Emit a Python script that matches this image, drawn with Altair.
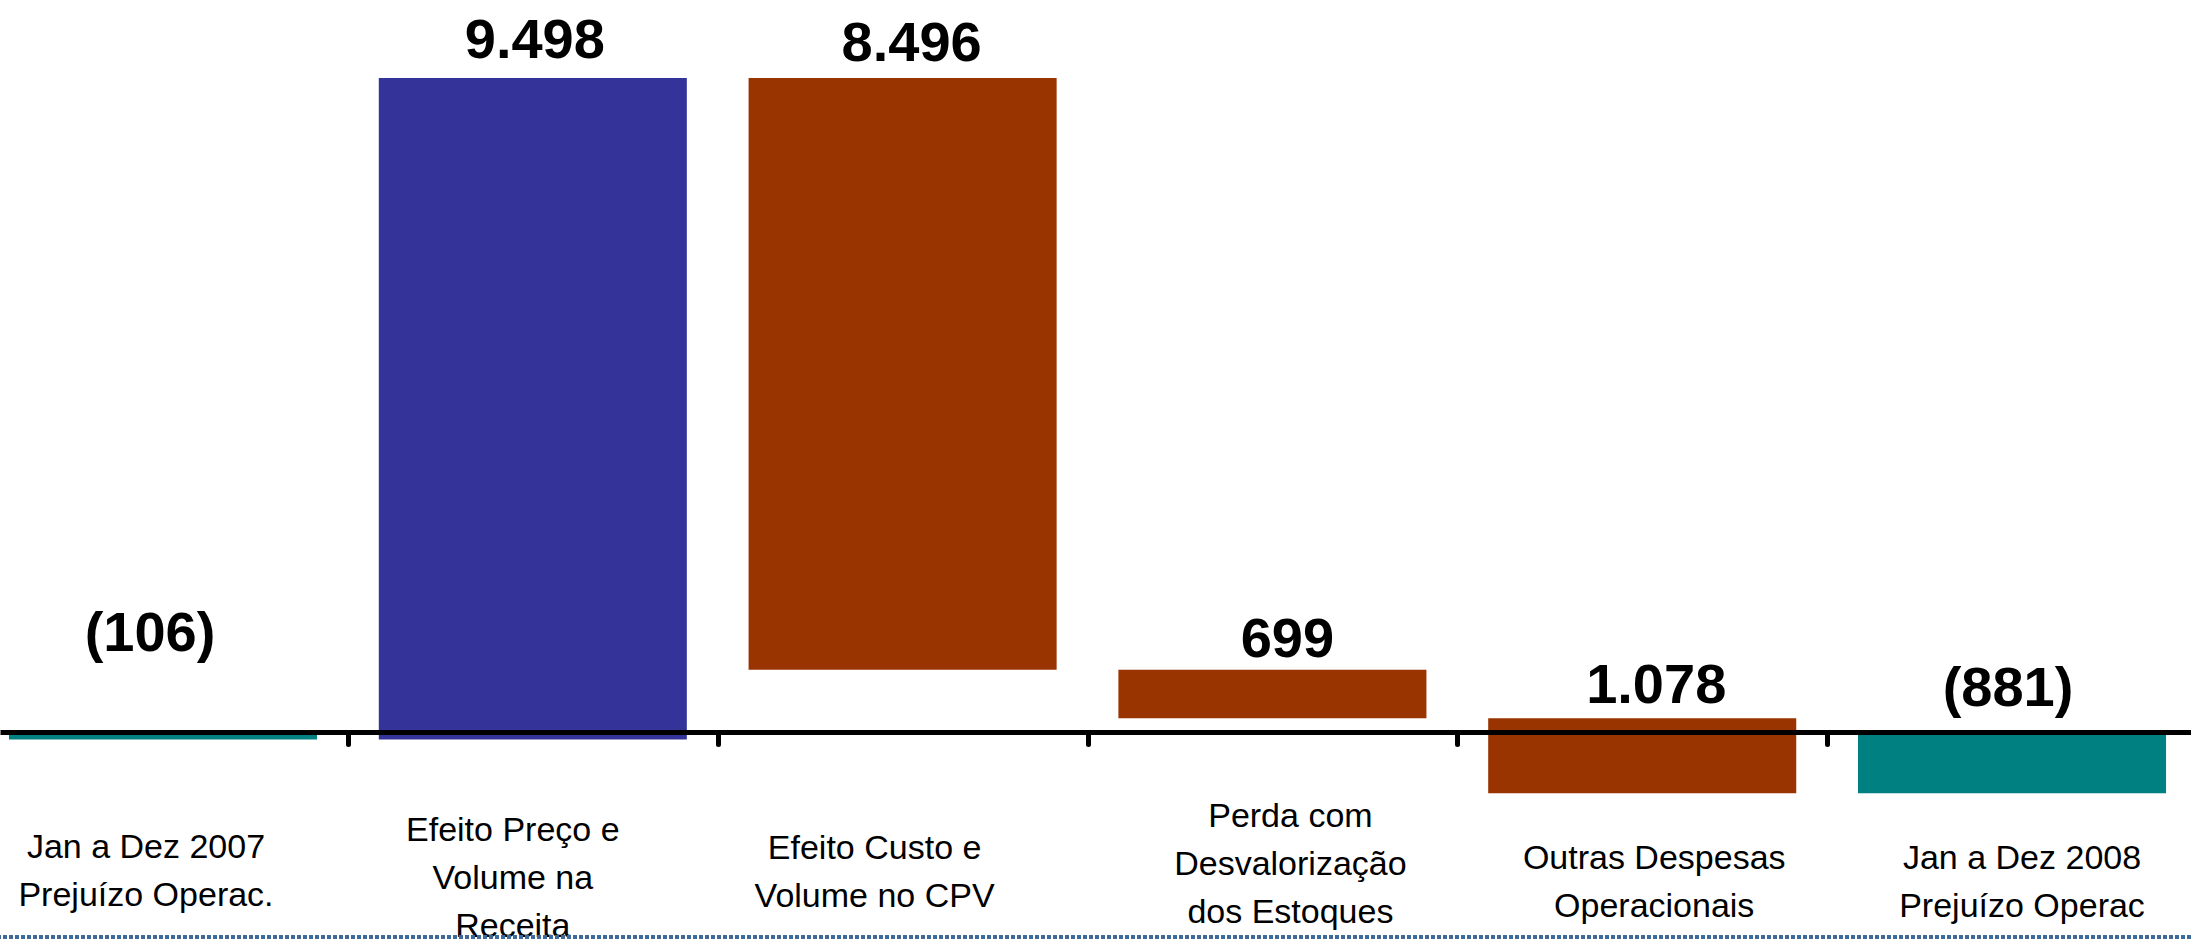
import altair as alt
import pandas as pd

# --- chart data -------------------------------------------------------------
categories = [
    "Jan a Dez 2007\nPrejuízo Operac.",
    "Efeito Preço  e\nVolume na\nReceita",
    "Efeito Custo e\nVolume no CPV",
    "Perda com\nDesvalorização\ndos Estoques",
    "Outras Despesas\nOperacionais",
    "Jan a Dez 2008\nPrejuízo Operac",
]
amounts = [-106, 9498, -8496, -699, -1078, -881]
kinds = ["total", "increase", "decrease", "decrease", "decrease", "total"]

# --- styling ----------------------------------------------------------------
kind_domain = ["total", "increase", "decrease"]
kind_range = ["#008080", "#333399", "#993300"]
bar_half = 0.4165                      # half bar width, in category units
value_dx = [-13, 2, 9, 15, 14, -4]     # pixel nudges of the value labels
value_dy = [-81, -20, -17, -13, -15, -26]
cat_dx = [-17, -20, -28, 18, 12, 10]   # pixel nudges of the category labels
cat_y = [858, 841, 859, 827, 869, 869]  # first-line baselines of category labels

W, H = 2191, 940
X_DOMAIN = [-0.4408, 5.484]
Y_DOMAIN = [-2987, 10513]
PX_PER_X = W / (X_DOMAIN[1] - X_DOMAIN[0])
PX_PER_Y = H / (Y_DOMAIN[1] - Y_DOMAIN[0])


def fmt_thousands(n):
    return f"{n:,}".replace(",", ".")


# waterfall: running total gives each bar's start and end
rows = []
running = 0
for i, (cat, amt, kind) in enumerate(zip(categories, amounts, kinds)):
    if kind == "total":
        start, end = 0, amt
        running = amt
        label = f"({fmt_thousands(-amt)})" if amt < 0 else fmt_thousands(amt)
    else:
        start, end = running, running + amt
        running = end
        label = fmt_thousands(abs(amt))
    top = max(start, end)
    rows.append(
        dict(
            idx=i,
            lo=i - bar_half,
            hi=i + bar_half,
            start=start,
            end=end,
            kind=kind,
            label=label,
            category=cat,
            # label anchors: bar centre / bar top, nudged by a few pixels
            vx=i + value_dx[i] / PX_PER_X,
            vy=top - value_dy[i] / PX_PER_Y,
            cx=i + cat_dx[i] / PX_PER_X,
            cy=cat_y[i],
        )
    )
df = pd.DataFrame(rows)

x_scale = alt.Scale(domain=X_DOMAIN, nice=False, zero=False)
y_scale = alt.Scale(domain=Y_DOMAIN, nice=False, zero=False)

# baseline at zero with ticks between the categories
x_axis = alt.Axis(
    values=[0.5, 1.5, 2.5, 3.5, 4.5],
    labels=False,
    title=None,
    grid=False,
    domainColor="black",
    domainWidth=5,
    tickColor="black",
    tickWidth=5,
    tickSize=12,
    tickCap="round",
    offset=-208,
    zindex=1,
)

bars = alt.Chart(df).mark_bar(cornerRadius=0).encode(
    x=alt.X("lo:Q", scale=x_scale, axis=x_axis),
    x2="hi:Q",
    y=alt.Y("start:Q", scale=y_scale, axis=None),
    y2="end:Q",
    color=alt.Color(
        "kind:N",
        scale=alt.Scale(domain=kind_domain, range=kind_range),
        legend=None,
    ),
)

value_labels = alt.Chart(df).mark_text(
    font="Liberation Sans",
    fontWeight="bold",
    fontSize=56,
    align="center",
    baseline="alphabetic",
    color="black",
).encode(
    x=alt.X("vx:Q", scale=x_scale, axis=x_axis),
    y=alt.Y("vy:Q", scale=y_scale, axis=None),
    text="label:N",
)

category_labels = alt.Chart(df).mark_text(
    font="Liberation Sans",
    fontSize=34,
    lineHeight=48,
    lineBreak="\n",
    align="center",
    baseline="alphabetic",
    color="black",
).encode(
    x=alt.X("cx:Q", scale=x_scale, axis=x_axis),
    y=alt.Y("cy:Q", scale=None, axis=None),
    text="category:N",
)

# dotted frame edge along the bottom of the slide
frame_edge = alt.Chart(df).mark_rule(
    color="#3c6a9c", strokeWidth=3, strokeDash=[4, 2]
).encode(y=alt.value(937))

chart = (
    alt.layer(bars, value_labels, category_labels, frame_edge)
    .properties(
        width=W,
        height=H,
        autosize=alt.AutoSizeParams(type="none"),
        padding=0,
        background="white",
    )
    .configure_view(stroke=None)
)

chart.save("out.html", embed_options={"renderer": "svg", "actions": False})
